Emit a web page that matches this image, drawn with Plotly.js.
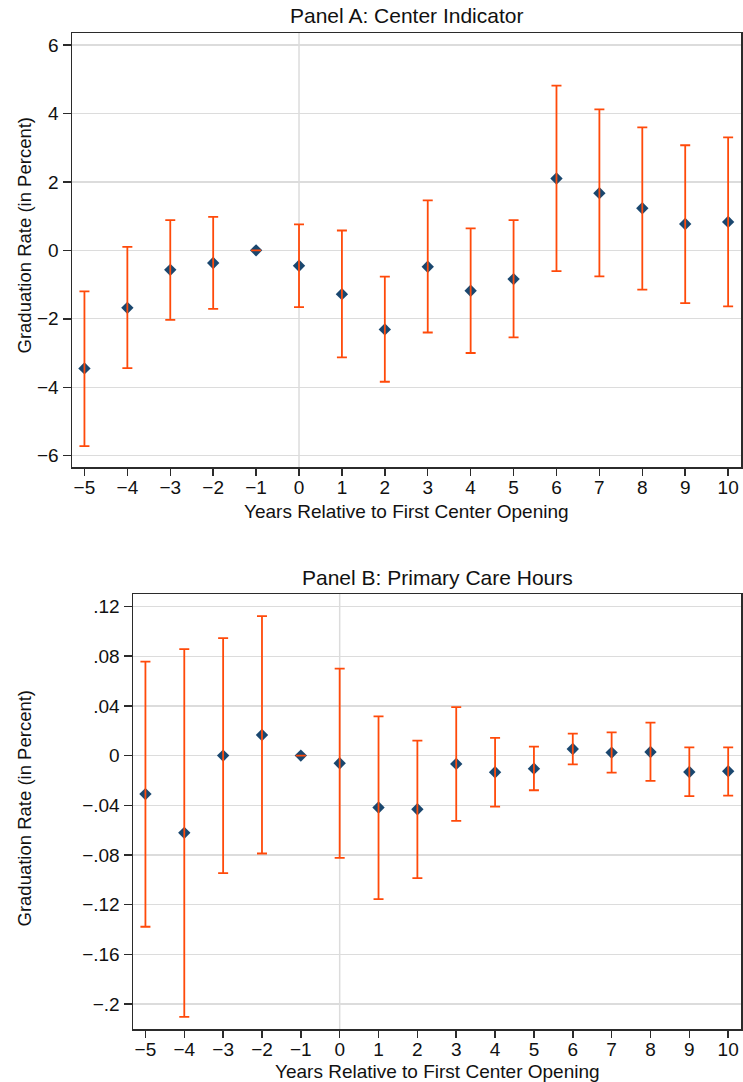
<!DOCTYPE html>
<html>
<head>
<meta charset="utf-8">
<script src="https://cdn.plot.ly/plotly-3.0.1.min.js"></script>
<style>html,body{margin:0;padding:0;background:#fff;}#chart{width:743px;height:1082px;}</style>
</head>
<body>
<div id="chart"></div>
<script>
// ---- Data ----
var years = [-5, -4, -3, -2, -1, 0, 1, 2, 3, 4, 5, 6, 7, 8, 9, 10];
var yearLabels = ["\u22125","\u22124","\u22123","\u22122","\u22121","0","1","2","3","4","5","6","7","8","9","10"];

// Panel A: Center Indicator
var estA   = [-3.45, -1.68, -0.57, -0.37, 0, -0.45, -1.28, -2.31, -0.48, -1.18, -0.84, 2.10, 1.67, 1.23, 0.77, 0.83];
var upperA = [-1.20,  0.10,  0.88,  0.98, 0,  0.76,  0.58, -0.77,  1.46,  0.64,  0.88, 4.81, 4.12, 3.59, 3.07, 3.30];
var lowerA = [-5.72, -3.44, -2.03, -1.71, 0, -1.66, -3.13, -3.84, -2.40, -3.00, -2.54, -0.61, -0.76, -1.15, -1.54, -1.64];
var yTicksA = [-6, -4, -2, 0, 2, 4, 6];
var yTickTextA = ["\u22126","\u22124","\u22122","0","2","4","6"];

// Panel B: Primary Care Hours
var estB   = [-0.0310, -0.0622, 0.0000, 0.0166, 0, -0.0062, -0.0418, -0.0432, -0.0067, -0.0134, -0.0105, 0.0053, 0.0024, 0.0029, -0.0132, -0.0126];
var upperB = [ 0.0756,  0.0857, 0.0946, 0.1123, 0,  0.0700,  0.0316,  0.0120,  0.0390,  0.0142,  0.0072, 0.0177, 0.0187, 0.0265,  0.0067,  0.0067];
var lowerB = [-0.1378, -0.2104, -0.0946, -0.0788, 0, -0.0823, -0.1155, -0.0987, -0.0526, -0.0410, -0.0279, -0.0070, -0.0137, -0.0204, -0.0327, -0.0322];
var yTicksB = [0.12, 0.08, 0.04, 0, -0.04, -0.08, -0.12, -0.16, -0.2];
var yTickTextB = [".12", ".08", ".04", "0", "\u2212.04", "\u2212.08", "\u2212.12", "\u2212.16", "\u2212.2"];

// ---- Styles ----
var W = 743, H = 1082;
var navy = "#1a476f";
var orange = "rgb(255,74,10)";
var gridCol = "#dcdcdc";
var axisCol = "#2b2b2b";
var FONT = "Liberation Sans, Arial, sans-serif";

function px(x){ return x / W; }
function py(y){ return 1 - y / H; }

function plus(est, up){ return est.map(function(v,i){ return up[i] - v; }); }
function minus(est, lo){ return est.map(function(v,i){ return v - lo[i]; }); }

function pointTrace(est, xa, ya){
  return {x: years, y: est, type: "scatter", mode: "markers", xaxis: xa, yaxis: ya,
    marker: {symbol: "diamond", size: 9.5, color: navy}, showlegend: false, hoverinfo: "skip"};
}
function ciTrace(est, up, lo, xa, ya){
  return {x: years, y: est, type: "scatter", mode: "markers", xaxis: xa, yaxis: ya,
    marker: {size: 1, opacity: 0}, showlegend: false, hoverinfo: "skip",
    error_y: {type: "data", symmetric: false, array: plus(est, up), arrayminus: minus(est, lo),
      color: orange, thickness: 1.8, width: 5}};
}

var data = [
  pointTrace(estA, "x", "y"),
  ciTrace(estA, upperA, lowerA, "x", "y"),
  pointTrace(estB, "x2", "y2"),
  ciTrace(estB, upperB, lowerB, "x2", "y2")
];

function xAxis(domain, range, anchor){
  return {domain: domain, range: range, anchor: anchor,
    tickmode: "array", tickvals: years, ticktext: yearLabels,
    ticks: "outside", ticklen: 7, tickwidth: 1.5, tickcolor: axisCol,
    ticklabelstandoff: -4,
    showline: true, linecolor: axisCol, linewidth: 1.5, mirror: true,
    showgrid: false, zeroline: false,
    tickfont: {family: FONT, size: 19, color: "#111"}};
}
function yAxis(domain, range, anchor, tv, tt){
  return {domain: domain, range: range, anchor: anchor,
    tickmode: "array", tickvals: tv, ticktext: tt,
    ticks: "outside", ticklen: 8, tickwidth: 1.5, tickcolor: axisCol,
    showline: true, linecolor: axisCol, linewidth: 1.5, mirror: true,
    showgrid: true, gridcolor: gridCol, gridwidth: 1.3, zeroline: false,
    tickfont: {family: FONT, size: 19, color: "#111"}};
}

var layout = {
  width: W, height: H,
  margin: {l: 0, r: 0, t: 0, b: 0},
  paper_bgcolor: "#fff", plot_bgcolor: "#fff",
  font: {family: FONT, color: "#111"},
  xaxis:  xAxis([px(72), px(741)], [-5.29, 10.3], "y"),
  yaxis:  yAxis([py(467), py(33)], [-6.33, 6.35], "x", yTicksA, yTickTextA),
  xaxis2: xAxis([px(133), px(741)], [-5.32, 10.33], "y2"),
  yaxis2: yAxis([py(1029), py(594)], [-0.2201, 0.1301], "x2", yTicksB, yTickTextB),
  shapes: [
    {type: "line", xref: "x", yref: "y domain", x0: 0, x1: 0, y0: 0, y1: 1, layer: "below",
     line: {color: gridCol, width: 1.5}},
    {type: "line", xref: "x2", yref: "y2 domain", x0: 0, x1: 0, y0: 0, y1: 1, layer: "below",
     line: {color: gridCol, width: 1.5}}
  ],
  annotations: [
    {text: "Panel A: Center Indicator", xref: "paper", yref: "paper", x: px(406.5), y: py(16),
     xanchor: "center", yanchor: "middle", showarrow: false, font: {family: FONT, size: 21, color: "#111"}},
    {text: "Panel B: Primary Care Hours", xref: "paper", yref: "paper", x: px(437), y: py(577),
     xanchor: "center", yanchor: "middle", showarrow: false, font: {family: FONT, size: 21, color: "#111"}},
    {text: "Years Relative to First Center Opening", xref: "paper", yref: "paper", x: px(406.5), y: py(511),
     xanchor: "center", yanchor: "middle", showarrow: false, font: {family: FONT, size: 19, color: "#111"}},
    {text: "Years Relative to First Center Opening", xref: "paper", yref: "paper", x: px(437), y: py(1071),
     xanchor: "center", yanchor: "middle", showarrow: false, font: {family: FONT, size: 19, color: "#111"}},
    {text: "Graduation Rate (in Percent)", xref: "paper", yref: "paper", x: px(24), y: py(235.5),
     xanchor: "center", yanchor: "middle", textangle: -90, showarrow: false, font: {family: FONT, size: 18.5, color: "#111"}},
    {text: "Graduation Rate (in Percent)", xref: "paper", yref: "paper", x: px(24), y: py(808.5),
     xanchor: "center", yanchor: "middle", textangle: -90, showarrow: false, font: {family: FONT, size: 18.5, color: "#111"}}
  ]
};

Plotly.newPlot("chart", data, layout, {staticPlot: true, displayModeBar: false});
</script>
</body>
</html>
